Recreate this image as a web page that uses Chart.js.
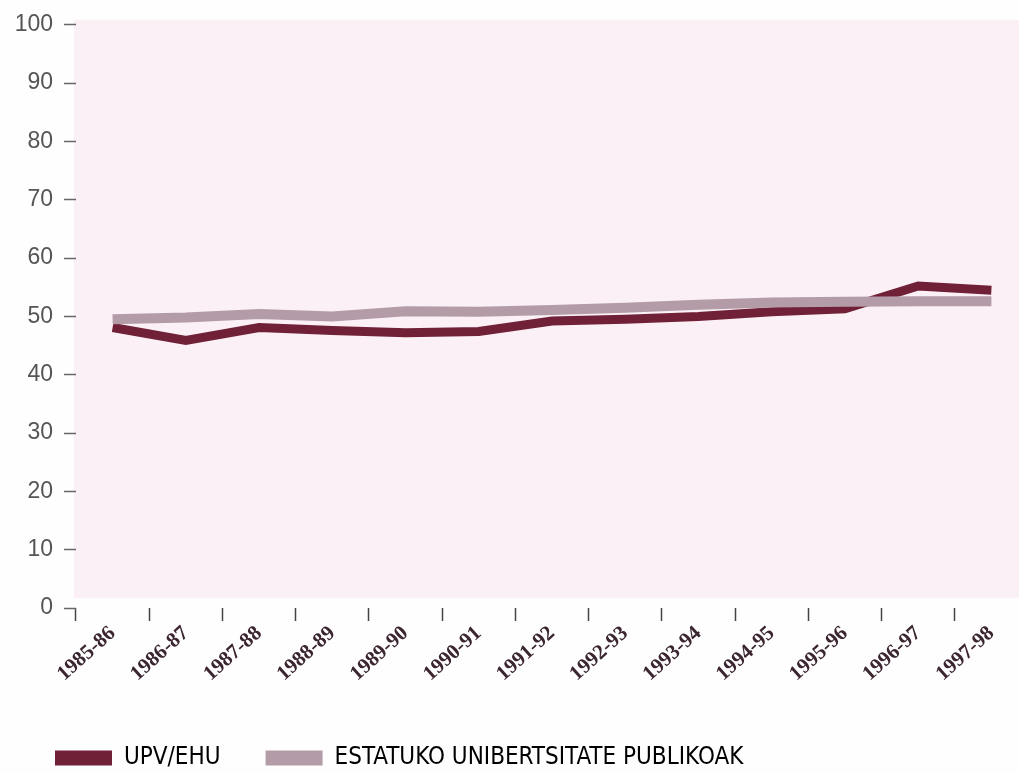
<!DOCTYPE html>
<html>
<head>
<meta charset="utf-8">
<script src="https://cdn.jsdelivr.net/npm/chart.js@4/dist/chart.umd.min.js"></script>
<style>
  html, body { margin: 0; padding: 0; background: #fefefe; overflow: hidden; }
  #wrap { width: 1028px; height: 780px; position: relative; }
</style>
</head>
<body>
<div id="wrap"><canvas id="c"></canvas></div>
<script>
// Academic years on the horizontal axis
const years = ['1985-86', '1986-87', '1987-88', '1988-89', '1989-90', '1990-91', '1991-92',
               '1992-93', '1993-94', '1994-95', '1995-96', '1996-97', '1997-98'];

// Percentages per year
const upvEhu = [48.1, 45.9, 48.1, 47.6, 47.2, 47.4, 49.2, 49.5, 50.0, 50.8, 51.3, 55.2, 54.5];
const estatukoPublikoak = [49.5, 49.8, 50.4, 50.0, 50.9, 50.8, 51.1, 51.5, 52.0, 52.4, 52.5, 52.6, 52.6];

// Series names for the legend
const seriesNames = ['UPV/EHU', 'ESTATUKO UNIBERTSITATE PUBLIKOAK'];

// Vertical axis range
const yMin = 0, yMax = 100, yStep = 10;

const maroon = '#712137';
const mauve = '#b39ba8';

// Pale pink panel behind the plot
const panelBackground = {
  id: 'panelBackground',
  beforeDraw(chart) {
    const { ctx, chartArea } = chart;
    ctx.save();
    ctx.fillStyle = '#fbf0f5';
    ctx.fillRect(chartArea.left - 2, chartArea.top - 5,
                 chart.width - chartArea.left + 2, chartArea.bottom - chartArea.top - 5);
    ctx.restore();
  }
};

new Chart(document.getElementById('c'), {
  type: 'line',
  data: {
    labels: years,
    datasets: [
      {
        label: seriesNames[0],
        data: upvEhu,
        borderColor: maroon,
        backgroundColor: maroon,
        borderWidth: 9,
        order: 1
      },
      {
        label: seriesNames[1],
        data: estatukoPublikoak,
        borderColor: mauve,
        backgroundColor: mauve,
        borderWidth: 10,
        order: 0
      }
    ]
  },
  options: {
    responsive: true,
    maintainAspectRatio: false,
    animation: false,
    layout: { padding: { top: 23, left: 10, right: 0, bottom: 0 } },
    elements: {
      line: { tension: 0, borderCapStyle: 'butt', borderJoinStyle: 'miter', fill: false },
      point: { radius: 0, hoverRadius: 0 }
    },
    plugins: {
      tooltip: { enabled: false },
      legend: {
        position: 'bottom',
        align: 'start',
        labels: {
          boxWidth: 57,
          boxHeight: 15,
          padding: 45,
          color: '#333',
          font: { family: '"Liberation Sans Narrow", "DejaVu Sans Condensed", sans-serif', size: 24 },
          generateLabels(chart) {
            return chart.data.datasets.map((ds, i) => ({
              text: ds.label,
              fillStyle: ds.borderColor,
              strokeStyle: ds.borderColor,
              lineWidth: 0,
              datasetIndex: i,
              hidden: false
            }));
          }
        }
      }
    },
    scales: {
      x: {
        offset: true,
        border: { display: false },
        grid: {
          offset: true,
          drawOnChartArea: false,
          drawTicks: true,
          tickLength: 13,
          tickWidth: 1.5,
          tickColor: '#444'
        },
        ticks: {
          autoSkip: false,
          minRotation: 42,
          maxRotation: 42,
          padding: 0,
          color: '#3a2530',
          font: { family: '"Liberation Serif", serif', size: 21, weight: 'bold' }
        },
        afterFit(scale) { scale.height = 93; }
      },
      y: {
        min: yMin,
        max: yMax,
        border: { display: false },
        grid: {
          drawOnChartArea: false,
          drawTicks: true,
          tickLength: 12,
          tickWidth: 1.5,
          tickColor: '#666'
        },
        ticks: {
          stepSize: yStep,
          padding: 11,
          color: '#555',
          font: { family: '"Liberation Sans", Arial, sans-serif', size: 23 }
        },
        afterFit(scale) { scale.width = 66; }
      }
    }
  },
  plugins: [panelBackground]
});
</script>
</body>
</html>
